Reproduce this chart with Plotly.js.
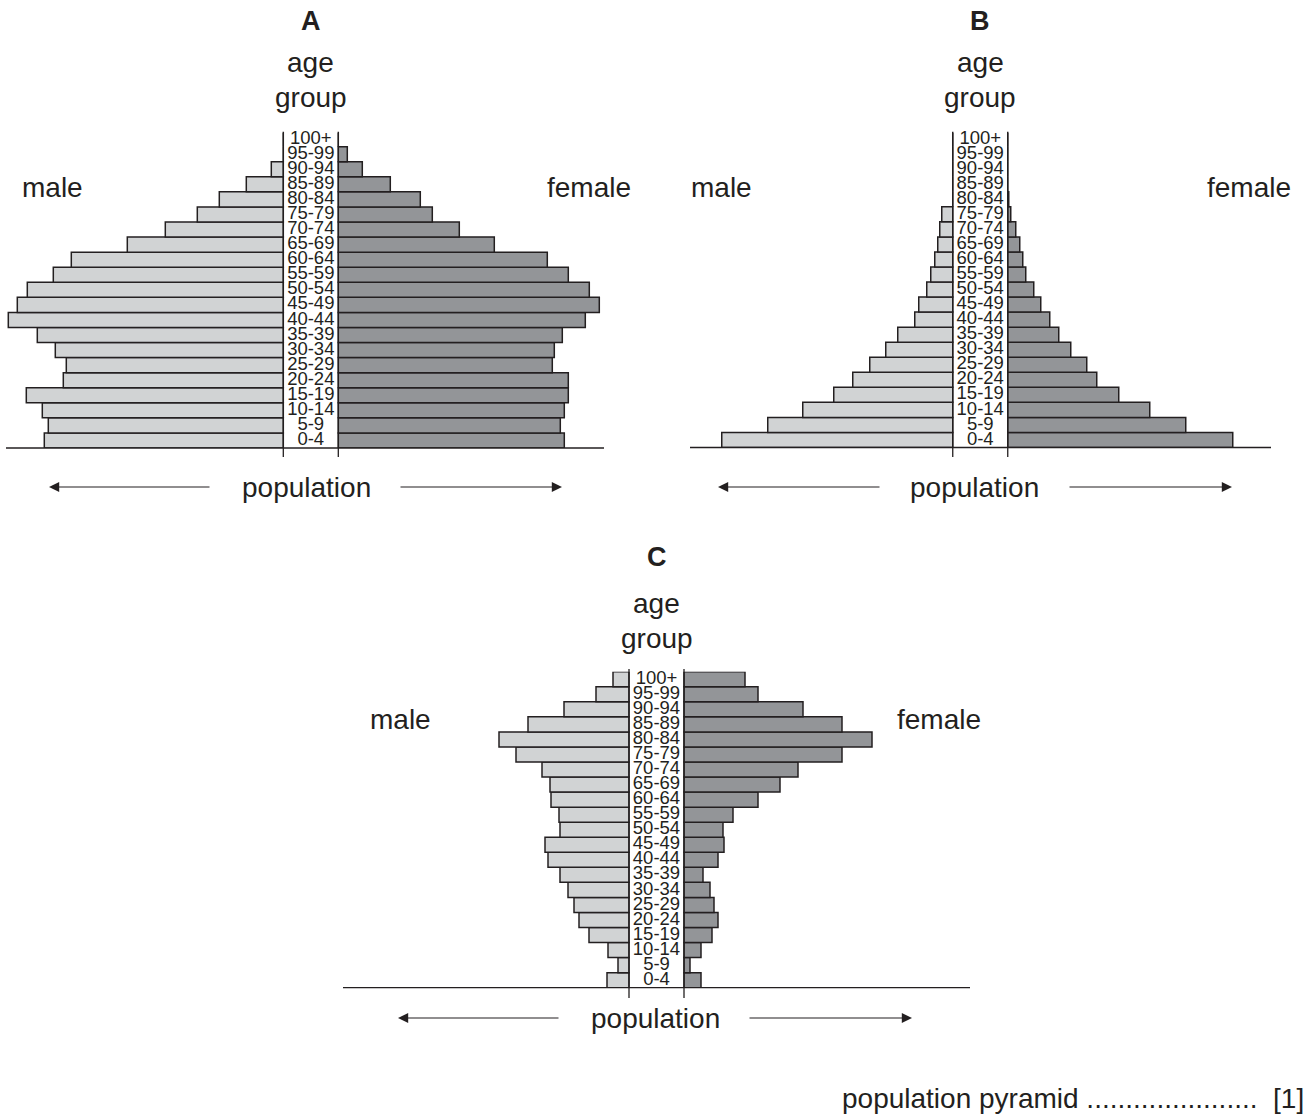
<!DOCTYPE html>
<html>
<head>
<meta charset="utf-8">
<script src="https://cdn.plot.ly/plotly-3.0.1.min.js"></script>
<style>
html,body{margin:0;padding:0;background:#fff;}
#chart{width:1309px;height:1115px;}
</style>
</head>
<body>
<div id="chart"></div>
<script>
// ---- data (bottom row first) ----
const ageGroups = ['0-4','5-9','10-14','15-19','20-24','25-29','30-34','35-39','40-44','45-49','50-54','55-59','60-64','65-69','70-74','75-79','80-84','85-89','90-94','95-99','100+'];

const maleA   = [239,235,241,257,220,217,228,246,275,266,256,230,212,156,118,86,64,37,12,0,0];
const femaleA = [226,222,226,230,230,214,216,224,247,261,251,230,209,156,121,94,82,52,24,9,0];

const maleB   = [231,185,150,119,100,83,67,55,38,34,26,22,18,15,13,11,0,0,0,0,0];
const femaleB = [225,178,142,111,89,79,63,51,42,33,26,18,15,12,8,3,1,0,0,0,0];

const maleC   = [22,11,21,40,50,55,61,69,81,84,69,70,78,79,87,113,130,101,65,33,16];
const femaleC = [17,6,17,28,34,30,26,19,34,40,39,49,74,96,114,158,188,158,119,74,61];

const panelLetters = ['A','B','C'];
const sideLabels = ['male','female'];
const axisLabel = 'population';
const centreTitle = ['age','group'];
const footerText = 'population pyramid ' + '.'.repeat(22) + ' &nbsp;[1]';

// ---- layout constants (pixels) ----
const W = 1309, H = 1115;
const HALF = 27.5;
const INK = '#231f20';
const MALE_FILL = '#d1d3d4';
const FEMALE_FILL = '#939598';
const FONT = 'Liberation Sans, Arial, sans-serif';

const px = v => v / W;
const py = v => 1 - v / H;

const panels = [
  {male: maleA, female: femaleA, left: 6,   right: 604,  cx: 310.8,  top: 131.6, base: 448,
   lineTop: 133, lineBot: 457, letterY: 21, ageY: 63, groupY: 98, sideY: 188, maleX: 52, femaleX: 589,
   popY: 487, popX: 306, arrL: [211, 49], arrR: [399, 562]},
  {male: maleB, female: femaleB, left: 690, right: 1271, cx: 980.25, top: 131.6, base: 447.5,
   lineTop: 133, lineBot: 457, letterY: 21, ageY: 63, groupY: 98, sideY: 188, maleX: 721, femaleX: 1249,
   popY: 487, popX: 975, arrL: [881, 718], arrR: [1068, 1232]},
  {male: maleC, female: femaleC, left: 343, right: 970,  cx: 656.5,  top: 671.7, base: 987.7,
   lineTop: 669, lineBot: 998, letterY: 557, ageY: 603, groupY: 638, sideY: 719, maleX: 400, femaleX: 939,
   popY: 1018, popX: 655, arrL: [560, 398], arrR: [748, 912]}
];

const data = [];
const layout = {
  width: W, height: H,
  margin: {l: 0, r: 0, t: 0, b: 0},
  paper_bgcolor: '#fff', plot_bgcolor: 'rgba(0,0,0,0)',
  showlegend: false,
  bargap: 0,
  barmode: 'overlay',
  font: {family: FONT, color: INK},
  shapes: [],
  annotations: []
};

panels.forEach((p, i) => {
  const n = i === 0 ? '' : String(i + 1);
  const xa = 'x' + n, ya = 'y' + n;
  layout['xaxis' + n] = {
    domain: [px(p.left), px(p.right)],
    range: [p.left - p.cx, p.right - p.cx],
    visible: false, fixedrange: true, anchor: ya
  };
  layout['yaxis' + n] = {
    domain: [py(p.base), py(p.top)],
    type: 'category', categoryorder: 'array', categoryarray: ageGroups,
    range: [-0.5, ageGroups.length - 0.5],
    visible: false, fixedrange: true, anchor: xa
  };
  data.push({
    type: 'bar', orientation: 'h', xaxis: xa, yaxis: ya,
    y: ageGroups, x: p.male.map(v => -v), base: -HALF,
    marker: {color: MALE_FILL, line: {color: INK, width: 1.5}},
    hoverinfo: 'skip'
  });
  data.push({
    type: 'bar', orientation: 'h', xaxis: xa, yaxis: ya,
    y: ageGroups, x: p.female, base: HALF,
    marker: {color: FEMALE_FILL, line: {color: INK, width: 1.5}},
    hoverinfo: 'skip'
  });
  data.push({
    type: 'scatter', mode: 'text', xaxis: xa, yaxis: ya,
    x: ageGroups.map(() => 0), y: ageGroups, text: ageGroups,
    textposition: 'middle center',
    textfont: {family: FONT, size: 18.5, color: INK},
    cliponaxis: false, hoverinfo: 'skip'
  });
  // centre column lines
  [-HALF, HALF].forEach(xv => {
    layout.shapes.push({type: 'line', xref: xa, yref: 'paper',
      x0: xv, x1: xv, y0: py(p.lineBot), y1: py(p.lineTop),
      line: {color: INK, width: 1.3}});
  });
  // baseline
  layout.shapes.push({type: 'line', xref: 'paper', yref: 'paper',
    x0: px(p.left), x1: px(p.right), y0: py(p.base), y1: py(p.base),
    line: {color: INK, width: 1.3}});

  const ann = (text, x, y, size, bold) => layout.annotations.push({
    text: bold ? '<b>' + text + '</b>' : text, xref: 'paper', yref: 'paper',
    x: px(x), y: py(y), xanchor: 'center', yanchor: 'middle', showarrow: false,
    font: {family: FONT, size: size, color: INK}
  });
  ann(panelLetters[i], p.cx, p.letterY, 27, true);
  ann(centreTitle[0], p.cx, p.ageY, 28);
  ann(centreTitle[1], p.cx, p.groupY, 28);
  ann(sideLabels[0], p.maleX, p.sideY, 28);
  ann(sideLabels[1], p.femaleX, p.sideY, 28);
  ann(axisLabel, p.popX, p.popY, 28);
  // arrows
  [p.arrL, p.arrR].forEach(([tail, tip]) => {
    layout.annotations.push({
      text: '', xref: 'paper', yref: 'paper', x: px(tip), y: py(p.popY),
      ax: tail - tip, ay: 0, showarrow: true,
      arrowhead: 2, arrowsize: 1.7, arrowwidth: 1.2, arrowcolor: INK
    });
  });
});

layout.annotations.push({
  text: footerText,
  xref: 'paper', yref: 'paper', x: px(1306), y: py(1098),
  xanchor: 'right', yanchor: 'middle', showarrow: false,
  font: {family: FONT, size: 28, color: INK}
});

Plotly.newPlot('chart', data, layout, {staticPlot: true, displayModeBar: false});
</script>
</body>
</html>
